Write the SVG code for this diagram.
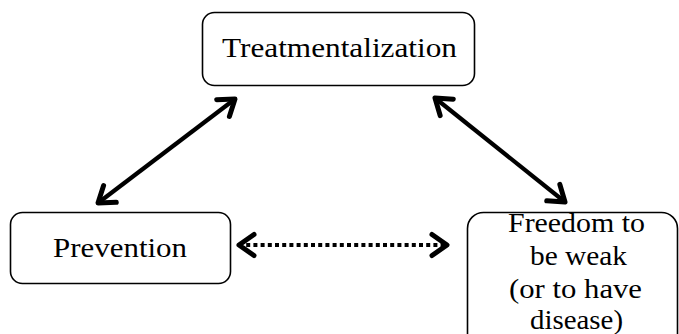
<svg xmlns="http://www.w3.org/2000/svg" width="679" height="334" viewBox="0 0 679 334">
  <style>
    .box { fill: #fff; stroke: #000; stroke-width: 1.6; }
    .label { font-family: "Liberation Serif", "DejaVu Serif", serif; font-size: 28px; fill: #000; }
    .link { fill: none; stroke: #000; stroke-width: 4.2; }
    .dotted { stroke-dasharray: 4 3.2; }
  </style>
  <defs>
    <marker id="head" viewBox="-22 -15 28 30" refX="0" refY="0" markerWidth="28" markerHeight="30"
            markerUnits="userSpaceOnUse" orient="auto-start-reverse">
      <path d="M-15,-10.5 L0,0 L-15,10.5" fill="none" stroke="#000" stroke-width="5"
            stroke-linecap="round" stroke-linejoin="round"/>
    </marker>
  </defs>

  <rect width="679" height="334" fill="#fff"/>

  <g id="connectors">
    <line class="link" x1="235" y1="99" x2="98" y2="203" marker-start="url(#head)" marker-end="url(#head)"/>
    <line class="link" x1="435" y1="98" x2="565" y2="202" marker-start="url(#head)" marker-end="url(#head)"/>
    <line class="link dotted" x1="239" y1="245" x2="447" y2="245" marker-start="url(#head)" marker-end="url(#head)"/>
  </g>

  <g id="treatmentalization">
    <rect class="box" x="202.5" y="12.5" width="272" height="73" rx="12"/>
    <text class="label" x="222" y="57" textLength="235" lengthAdjust="spacingAndGlyphs">Treatmentalization</text>
  </g>

  <g id="prevention">
    <rect class="box" x="10.5" y="212.5" width="220" height="71" rx="12"/>
    <text class="label" x="53" y="257" textLength="134" lengthAdjust="spacingAndGlyphs">Prevention</text>
  </g>

  <g id="freedom">
    <rect class="box" x="467.5" y="212.5" width="210" height="140" rx="16"/>
    <text class="label" x="508" y="232" textLength="137" lengthAdjust="spacingAndGlyphs">Freedom to</text>
    <text class="label" x="530" y="265" textLength="97" lengthAdjust="spacingAndGlyphs">be weak</text>
    <text class="label" x="509" y="298" textLength="133" lengthAdjust="spacingAndGlyphs">(or to have</text>
    <text class="label" x="530" y="329" textLength="93" lengthAdjust="spacingAndGlyphs">disease)</text>
  </g>
</svg>
